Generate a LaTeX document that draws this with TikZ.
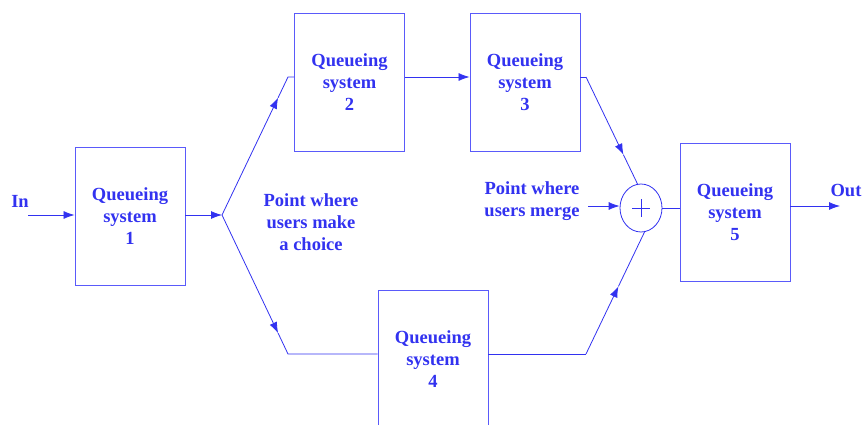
\documentclass[tikz,border=0pt]{standalone}
\usepackage{fontspec}
\setmainfont{Liberation Serif}
\usetikzlibrary{arrows.meta,calc,shapes.geometric}
\definecolor{qblue}{RGB}{50,50,240}
\definecolor{lblue}{RGB}{90,90,250}
\tikzset{
  qbox/.style={draw=lblue,line width=0.9pt,minimum width=110pt,minimum height=138pt,
    align=center,text=qblue,font=\bfseries\fontsize{18.5}{22}\selectfont,inner sep=0pt},
  lbl/.style={text=qblue,align=center,font=\bfseries\fontsize{18.5}{22}\selectfont,inner sep=0pt},
  conn/.style={draw=qblue,line width=0.8pt},
  arr/.style={conn,-{Latex[length=11pt,width=8pt]}}
}
\begin{document}
\begin{tikzpicture}[x=1pt,y=-1pt]
\useasboundingbox (0,0) rectangle (865,425);
\node[qbox] (q1) at (130,216) {Queueing\\system\\1};
\node[qbox] (q2) at (349.5,82.5) {Queueing\\system\\2};
\node[qbox] (q3) at (525,82.5) {Queueing\\system\\3};
\node[qbox] (q4) at (433,359) {Queueing\\system\\4};
\node[qbox] (q5) at (735,212) {Queueing\\system\\5};
\node[draw=qblue,line width=0.8pt,ellipse,minimum width=42pt,minimum height=48pt,inner sep=0pt] (sum) at (641,208) {};
\draw[conn] ($(sum.center)+(-9,0)$) -- ($(sum.center)+(9,0)$);
\draw[conn] ($(sum.center)+(0,-9)$) -- ($(sum.center)+(0,9)$);
\node[lbl] (in) at (20,201) {In};
\node[lbl] (out) at (846,190) {Out};
\node[lbl] (choice) at (311,222) {Point where\\users make\\a choice};
\node[lbl] (merge) at (532,201) {Point where\\users merge};
% input
\coordinate (inS) at (28,215);
\draw[arr] (inS) -- (inS -| q1.west);
% to branch
\coordinate (br) at (222,215);
\draw[arr] (q1.east |- br) -- (br);
% upper branch
\coordinate (u1) at (288,77);
\coordinate (ua) at ($(br)!0.85!(u1)$);
\draw[arr] (br) -- (ua);
\draw[conn] (ua) -- (u1) -- (u1 -| q2.west);
% lower branch
\coordinate (l1) at (288,354);
\coordinate (la) at ($(br)!0.85!(l1)$);
\draw[arr] (br) -- (la);
\draw[conn] (la) -- (l1) -- (l1 -| q4.west);
% 2 to 3
\draw[arr] (q2.east |- u1) -- (q3.west |- u1);
% 3 to sum
\coordinate (r3) at (586,77);
\coordinate (st) at (638,185);
\coordinate (ra) at ($(r3)!0.72!(st)$);
\draw[conn] (q3.east |- r3) -- (r3);
\draw[arr] (r3) -- (ra);
\draw[conn] (ra) -- (st);
% 4 to sum
\coordinate (r4) at (586,354);
\coordinate (sb) at (645,231);
\coordinate (rb) at ($(r4)!0.55!(sb)$);
\draw[conn] (q4.east |- r4) -- (r4);
\draw[arr] (r4) -- (rb);
\draw[conn] (rb) -- (sb);
% merge label arrow
\coordinate (m1) at (588,206);
\draw[arr] (m1) -- (sum.west |- m1);
% sum to 5
\draw[conn] (sum.east) -- (q5.west |- sum.east);
% output
\coordinate (oE) at (840,206);
\draw[arr] (q5.east |- oE) -- (oE);
\end{tikzpicture}
\end{document}
